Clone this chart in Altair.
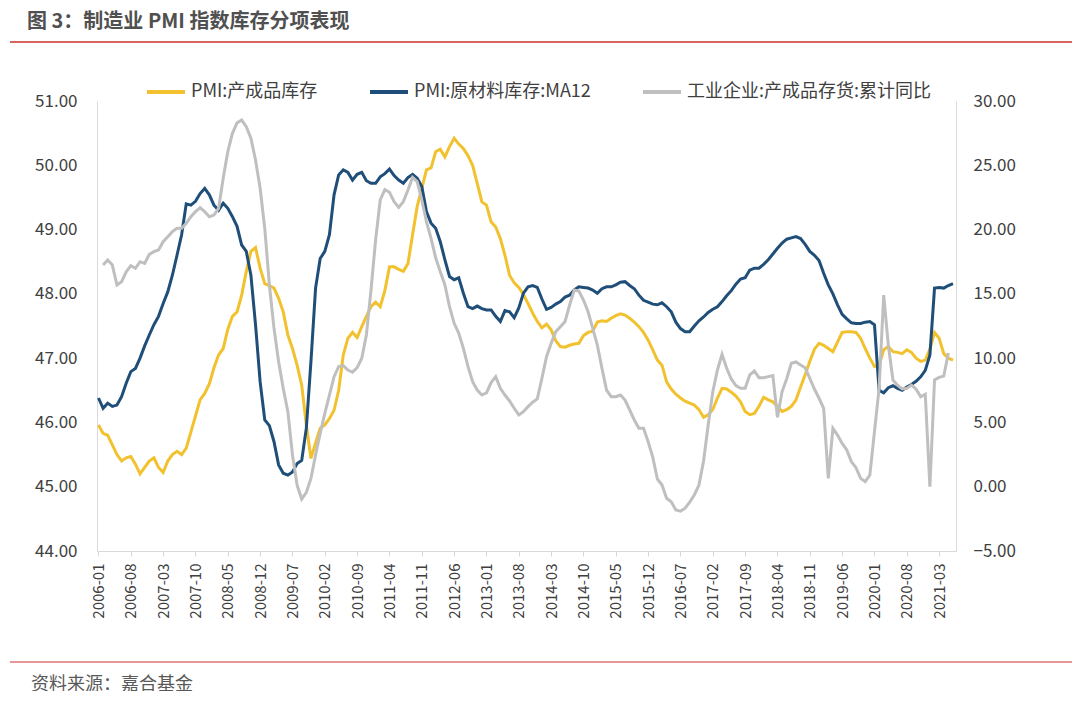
import altair as alt
import pandas as pd

# ---- data (monthly, 2006-01 .. 2021-06) ----
start_year = 2006
series_names = ["PMI:产成品库存", "PMI:原材料库存:MA12", "工业企业:产成品存货:累计同比"]
series_colors = ["#F2C12E", "#1F4E79", "#BFBFBF"]

pmi_finished = [
    45.96, 45.83, 45.8, 45.65, 45.5, 45.4, 45.45, 45.47, 45.35, 45.2, 45.3, 45.4,
    45.45, 45.3, 45.22, 45.4, 45.5, 45.55, 45.5, 45.6, 45.85, 46.1, 46.35, 46.45,
    46.6, 46.85, 47.05, 47.15, 47.45, 47.65, 47.72, 47.98, 48.35, 48.66, 48.72, 48.4,
    48.16, 48.13, 48.09, 47.93, 47.72, 47.36, 47.15, 46.89, 46.58, 45.96, 45.44, 45.68,
    45.91, 45.96, 46.06, 46.19, 46.5, 47.05, 47.31, 47.4, 47.32, 47.49, 47.65, 47.8,
    47.87, 47.8, 48.05, 48.42, 48.42, 48.38, 48.35, 48.47, 48.92, 49.36, 49.64, 49.93,
    49.96, 50.21, 50.25, 50.13, 50.29, 50.42, 50.33, 50.26, 50.15, 50.0, 49.72, 49.43,
    49.38, 49.12, 49.04, 48.86, 48.6, 48.29, 48.17, 48.1, 47.99, 47.85, 47.7, 47.57,
    47.47, 47.53, 47.44, 47.27, 47.18, 47.17, 47.2, 47.22, 47.23, 47.35, 47.4, 47.42,
    47.56, 47.58, 47.57, 47.62, 47.66, 47.69, 47.67, 47.62, 47.56, 47.49, 47.4, 47.28,
    47.13, 46.97, 46.89, 46.63, 46.52, 46.44, 46.38, 46.33, 46.3, 46.27, 46.2, 46.08,
    46.12, 46.2, 46.38, 46.53, 46.52, 46.47, 46.41, 46.32, 46.17, 46.12, 46.14, 46.25,
    46.39, 46.35, 46.32, 46.25, 46.17, 46.2, 46.25, 46.35, 46.55, 46.74, 46.95, 47.14,
    47.23, 47.2, 47.15, 47.1, 47.25, 47.4, 47.41, 47.41, 47.4, 47.31, 47.15, 47.0,
    46.87, 46.89, 47.13, 47.18, 47.1, 47.09, 47.07, 47.13, 47.09, 47.0, 46.95, 46.97,
    47.14, 47.4, 47.31, 47.07, 47.0, 46.97,
]

pmi_raw_ma12 = [
    46.38, 46.22, 46.3, 46.25, 46.27, 46.4, 46.61, 46.79, 46.84, 47.0, 47.19, 47.36,
    47.52, 47.65, 47.85, 48.03, 48.29, 48.6, 48.92, 49.4, 49.38, 49.44, 49.56, 49.64,
    49.54, 49.38, 49.3, 49.41, 49.33, 49.2, 49.05, 48.76, 48.66, 48.29, 47.52, 46.63,
    46.04, 45.95, 45.7, 45.34, 45.21, 45.18, 45.23, 45.36, 45.41, 45.91, 46.95, 48.09,
    48.55, 48.66, 48.92, 49.54, 49.85, 49.93, 49.89, 49.77, 49.86, 49.89, 49.76, 49.72,
    49.72, 49.82, 49.87, 49.94, 49.84, 49.77, 49.72, 49.81, 49.86, 49.8, 49.67, 49.28,
    49.1, 49.02, 48.81, 48.53, 48.27, 48.22, 48.25, 48.01, 47.8, 47.77, 47.81, 47.77,
    47.75, 47.75, 47.65, 47.57, 47.74, 47.72, 47.63, 47.78, 48.01, 48.11, 48.13, 48.1,
    47.92, 47.76, 47.79, 47.84, 47.88, 47.95, 47.98, 48.06, 48.11, 48.1, 48.09, 48.06,
    48.01, 48.08, 48.11, 48.11, 48.14, 48.18, 48.19, 48.13, 48.08, 47.98, 47.9, 47.87,
    47.84, 47.83, 47.86, 47.8, 47.72, 47.56, 47.46, 47.41, 47.41, 47.5, 47.58, 47.64,
    47.71, 47.76, 47.8, 47.88, 47.97, 48.05, 48.15, 48.23, 48.25, 48.37, 48.4, 48.4,
    48.46, 48.53, 48.62, 48.71, 48.79, 48.85, 48.87, 48.89, 48.86, 48.77, 48.66, 48.6,
    48.52, 48.32, 48.14, 48.0, 47.83, 47.68, 47.61, 47.55, 47.54, 47.54, 47.56, 47.57,
    47.52, 46.5, 46.46, 46.54, 46.57, 46.53, 46.5, 46.55, 46.59, 46.64, 46.71, 46.81,
    47.05, 48.09, 48.1, 48.09, 48.13, 48.16,
]

ind_finished_inv_yoy = [
    None, 17.24, 17.63, 17.24, 15.69, 15.95, 16.72, 17.19, 16.99, 17.5, 17.37, 18.07,
    18.28, 18.41, 19.06, 19.45, 19.84, 20.1, 20.1, 20.49, 21.0, 21.39, 21.7, 21.39,
    21.0, 21.13, 21.65, 23.99, 26.06, 27.49, 28.3, 28.52, 28.0, 27.1, 25.41, 23.21,
    20.1, 15.69, 12.32, 9.72, 7.65, 5.84, 2.47, 0.13, -0.96, -0.44, 0.65, 2.47,
    4.15, 5.71, 7.13, 8.56, 9.34, 9.42, 9.08, 8.9, 9.26, 9.99, 11.8, 15.3,
    19.2, 22.3, 23.1, 22.9, 22.17, 21.73, 22.17, 23.08, 24.06, 23.73, 22.3, 20.61,
    19.32, 17.81, 16.72, 15.69, 14.0, 12.71, 11.93, 10.76, 9.34, 8.17, 7.52, 7.13,
    7.3, 8.1, 8.56, 7.65, 7.13, 6.67, 6.1, 5.58, 5.84, 6.23, 6.57, 6.83,
    8.43, 10.11, 11.15, 12.06, 12.45, 12.84, 14.13, 15.3, 15.22, 14.52, 13.61, 12.32,
    11.02, 9.21, 7.52, 7.0, 7.0, 7.13, 6.74, 5.97, 5.19, 4.54, 4.54, 3.5,
    2.3, 0.6, 0.13, -0.9, -1.17, -1.81, -1.9, -1.67, -1.2, -0.64, 0.13, 2.0,
    4.8, 7.39, 9.08, 10.3, 9.21, 8.38, 7.86, 7.65, 7.65, 8.69, 9.0, 8.48,
    8.48, 8.56, 8.64, 5.4, 7.4, 8.4, 9.6, 9.7, 9.46, 9.25, 8.43, 7.6,
    6.88, 6.1, 0.65, 4.54, 4.02, 3.37, 2.86, 1.95, 1.48, 0.65, 0.4, 0.91,
    4.28, 7.65, 14.9, 11.0, 8.3, 7.9, 7.6, 7.65, 7.9, 7.6, 7.0, 7.2,
    0.0, 8.3, 8.5, 8.6, 10.4, None,
]

left_ticks = [44, 45, 46, 47, 48, 49, 50, 51]
right_ticks = [-5, 0, 5, 10, 15, 20, 25, 30]
x_tick_step = 7

title_text = "图 3：制造业 PMI 指数库存分项表现"
source_text = "资料来源：嘉合基金"

# ---- frames ----
n = len(pmi_finished)
idx = list(range(n))
left_df = pd.DataFrame({
    "m": idx + idx,
    "value": pmi_finished + pmi_raw_ma12,
    "series": [series_names[0]] * n + [series_names[1]] * n,
})
right_df = pd.DataFrame({
    "m": idx,
    "value": ind_finished_inv_yoy,
    "series": [series_names[2]] * n,
}).dropna()

FONT = "Noto Sans CJK SC"
TXT = "#404040"
AXC = "#D9D9D9"

label_expr = (
    f"toString({start_year} + floor(datum.value / 12)) + '-' + "
    "(datum.value % 12 < 9 ? '0' : '') + toString(datum.value % 12 + 1)"
)

x_enc = alt.X(
    "m:Q",
    scale=alt.Scale(domain=[-0.32, 185.65], nice=False, zero=False),
    axis=alt.Axis(
        values=list(range(0, n, x_tick_step)),
        labelExpr=label_expr,
        labelAngle=270,
        labelFontSize=15,
        labelColor=TXT,
        labelFont=FONT,
        labelPadding=7,
        tickSize=5,
        tickColor=AXC,
        domainColor=AXC,
        grid=False,
        title=None,
        labelOverlap=False,
    ),
)

color_enc = alt.Color(
    "series:N",
    scale=alt.Scale(domain=series_names, range=series_colors),
    legend=alt.Legend(
        title=None,
        orient="none",
        direction="horizontal",
        legendX=48,
        legendY=-30,
        symbolType="stroke",
        symbolSize=1444,
        symbolStrokeWidth=4,
        labelFontSize=18,
        labelFont=FONT,
        labelColor=TXT,
        labelOffset=4,
        columnPadding=44,
        labelLimit=400,
    ),
)

left = alt.Chart(left_df).mark_line(strokeWidth=3).encode(
    x=x_enc,
    y=alt.Y(
        "value:Q",
        scale=alt.Scale(domain=[44, 51], nice=False, zero=False),
        axis=alt.Axis(
            orient="left",
            values=left_ticks,
            format=".2f",
            labelFontSize=17,
            labelFont=FONT,
            labelColor=TXT,
            labelPadding=20,
            ticks=False,
            domainColor=AXC,
            grid=False,
            title=None,
        ),
    ),
    color=color_enc,
)

right = alt.Chart(right_df).mark_line(strokeWidth=3).encode(
    x=x_enc,
    y=alt.Y(
        "value:Q",
        scale=alt.Scale(domain=[-5, 30], nice=False, zero=False),
        axis=alt.Axis(
            orient="right",
            values=right_ticks,
            format=".2f",
            labelFontSize=17,
            labelFont=FONT,
            labelColor=TXT,
            labelPadding=17,
            ticks=False,
            domainColor=AXC,
            grid=False,
            title=None,
        ),
    ),
    color=color_enc,
)

one = pd.DataFrame({"t": [title_text]})
title_mark = alt.Chart(one).mark_text(
    align="left", baseline="middle", fontSize=20, fontWeight="bold",
    font=FONT, color="#505050",
).encode(x=alt.value(-70), y=alt.value(-79), text="t:N")

src = pd.DataFrame({"t": [source_text]})
source_mark = alt.Chart(src).mark_text(
    align="left", baseline="middle", fontSize=18, font=FONT, color="#595959",
).encode(x=alt.value(-66), y=alt.value(584), text="t:N")

dummy = pd.DataFrame({"a": [0]})
top_rule = alt.Chart(dummy).mark_rule(color="#C9302C", strokeWidth=1.6).encode(
    x=alt.value(-87), x2=alt.value(978), y=alt.value(-59)
)
bottom_rule = alt.Chart(dummy).mark_rule(color="#C9302C", strokeWidth=1.2).encode(
    x=alt.value(-87), x2=alt.value(978), y=alt.value(561)
)

chart = (
    alt.layer(left, right, title_mark, source_mark, top_rule, bottom_rule)
    .resolve_scale(y="independent")
    .properties(
        width=859,
        height=450,
        padding={"left": 89, "top": 93, "right": 116, "bottom": 140},
        autosize=alt.AutoSizeParams(type="none"),
        background="white",
    )
    .configure_view(stroke=None)
)

chart.save("out.html", embed_options={"renderer": "svg", "actions": False})
